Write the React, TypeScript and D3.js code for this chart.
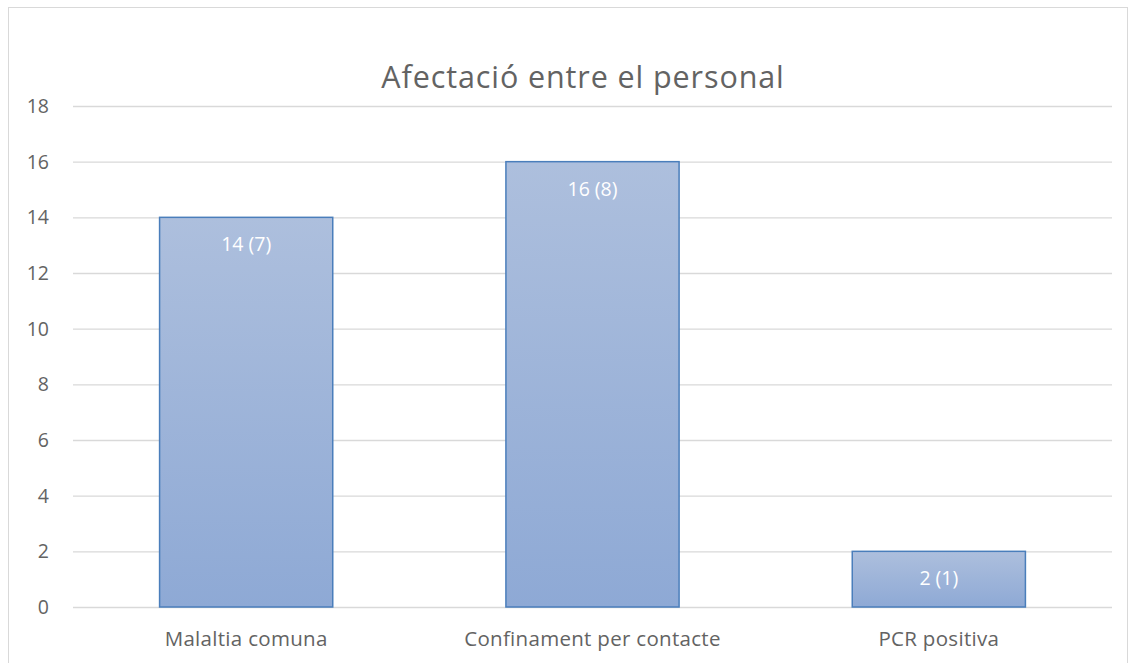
import React from "react";
import * as d3 from "d3";

const categories = ["Malaltia comuna", "Confinament per contacte", "PCR positiva"];
const values = [14, 16, 2];
const labels = ["14 (7)", "16 (8)", "2 (1)"];
const yTicks = [0, 2, 4, 6, 8, 10, 12, 14, 16, 18];
const title = "Afectació entre el personal";

export default function App() {
  const W = 1136, H = 663;
  const left = 73, right = 1112, top = 106, bottom = 607;
  const x = d3.scaleBand<string>().domain(categories).range([left, right]).paddingInner(0.5).paddingOuter(0.25);
  const y = d3.scaleLinear().domain([0, 18]).range([bottom, top]);
  const font = "'Open Sans', sans-serif";
  const textColor = "#636363";
  return (
    <svg width={W} height={H} style={{ position: "absolute", left: 0, top: 0 }} fontFamily={font}>
      <defs>
        <linearGradient id="barGrad" x1="0" y1="0" x2="0" y2="1">
          <stop offset="0" stopColor="#adbfdd" />
          <stop offset="1" stopColor="#8ea9d5" />
        </linearGradient>
      </defs>
      <rect x={0} y={0} width={W} height={H} fill="#fff" />
      <rect x={8.5} y={7.5} width={1119} height={670} fill="#fff" stroke="#d9d9d9" strokeWidth={1} />
      <text x={583} y={88} textAnchor="middle" fontSize={30.5} letterSpacing={0.9} fill={textColor}>{title}</text>
      {yTicks.map((t) => (
        <g key={t}>
          <line x1={left} x2={right} y1={y(t) + 0.5} y2={y(t) + 0.5} stroke="#d9d9d9" strokeWidth={1.3} />
          <text x={49} y={y(t) + 7} textAnchor="end" fontSize={19.5} fill={textColor}>{t}</text>
        </g>
      ))}
      {categories.map((c, i) => (
        <g key={c}>
          <rect x={x(c)!} y={y(values[i])} width={x.bandwidth()} height={bottom - y(values[i])}
            fill="url(#barGrad)" stroke="#4a7ebb" strokeWidth={1.5} />
          <text x={x(c)! + x.bandwidth() / 2} y={y(values[i]) + 34} textAnchor="middle" fontSize={19.5} fill="#ffffff">{labels[i]}</text>
          <text x={x(c)! + x.bandwidth() / 2} y={646} textAnchor="middle" fontSize={20.5} letterSpacing={0.3} fill={textColor}>{c}</text>
        </g>
      ))}
    </svg>
  );
}
